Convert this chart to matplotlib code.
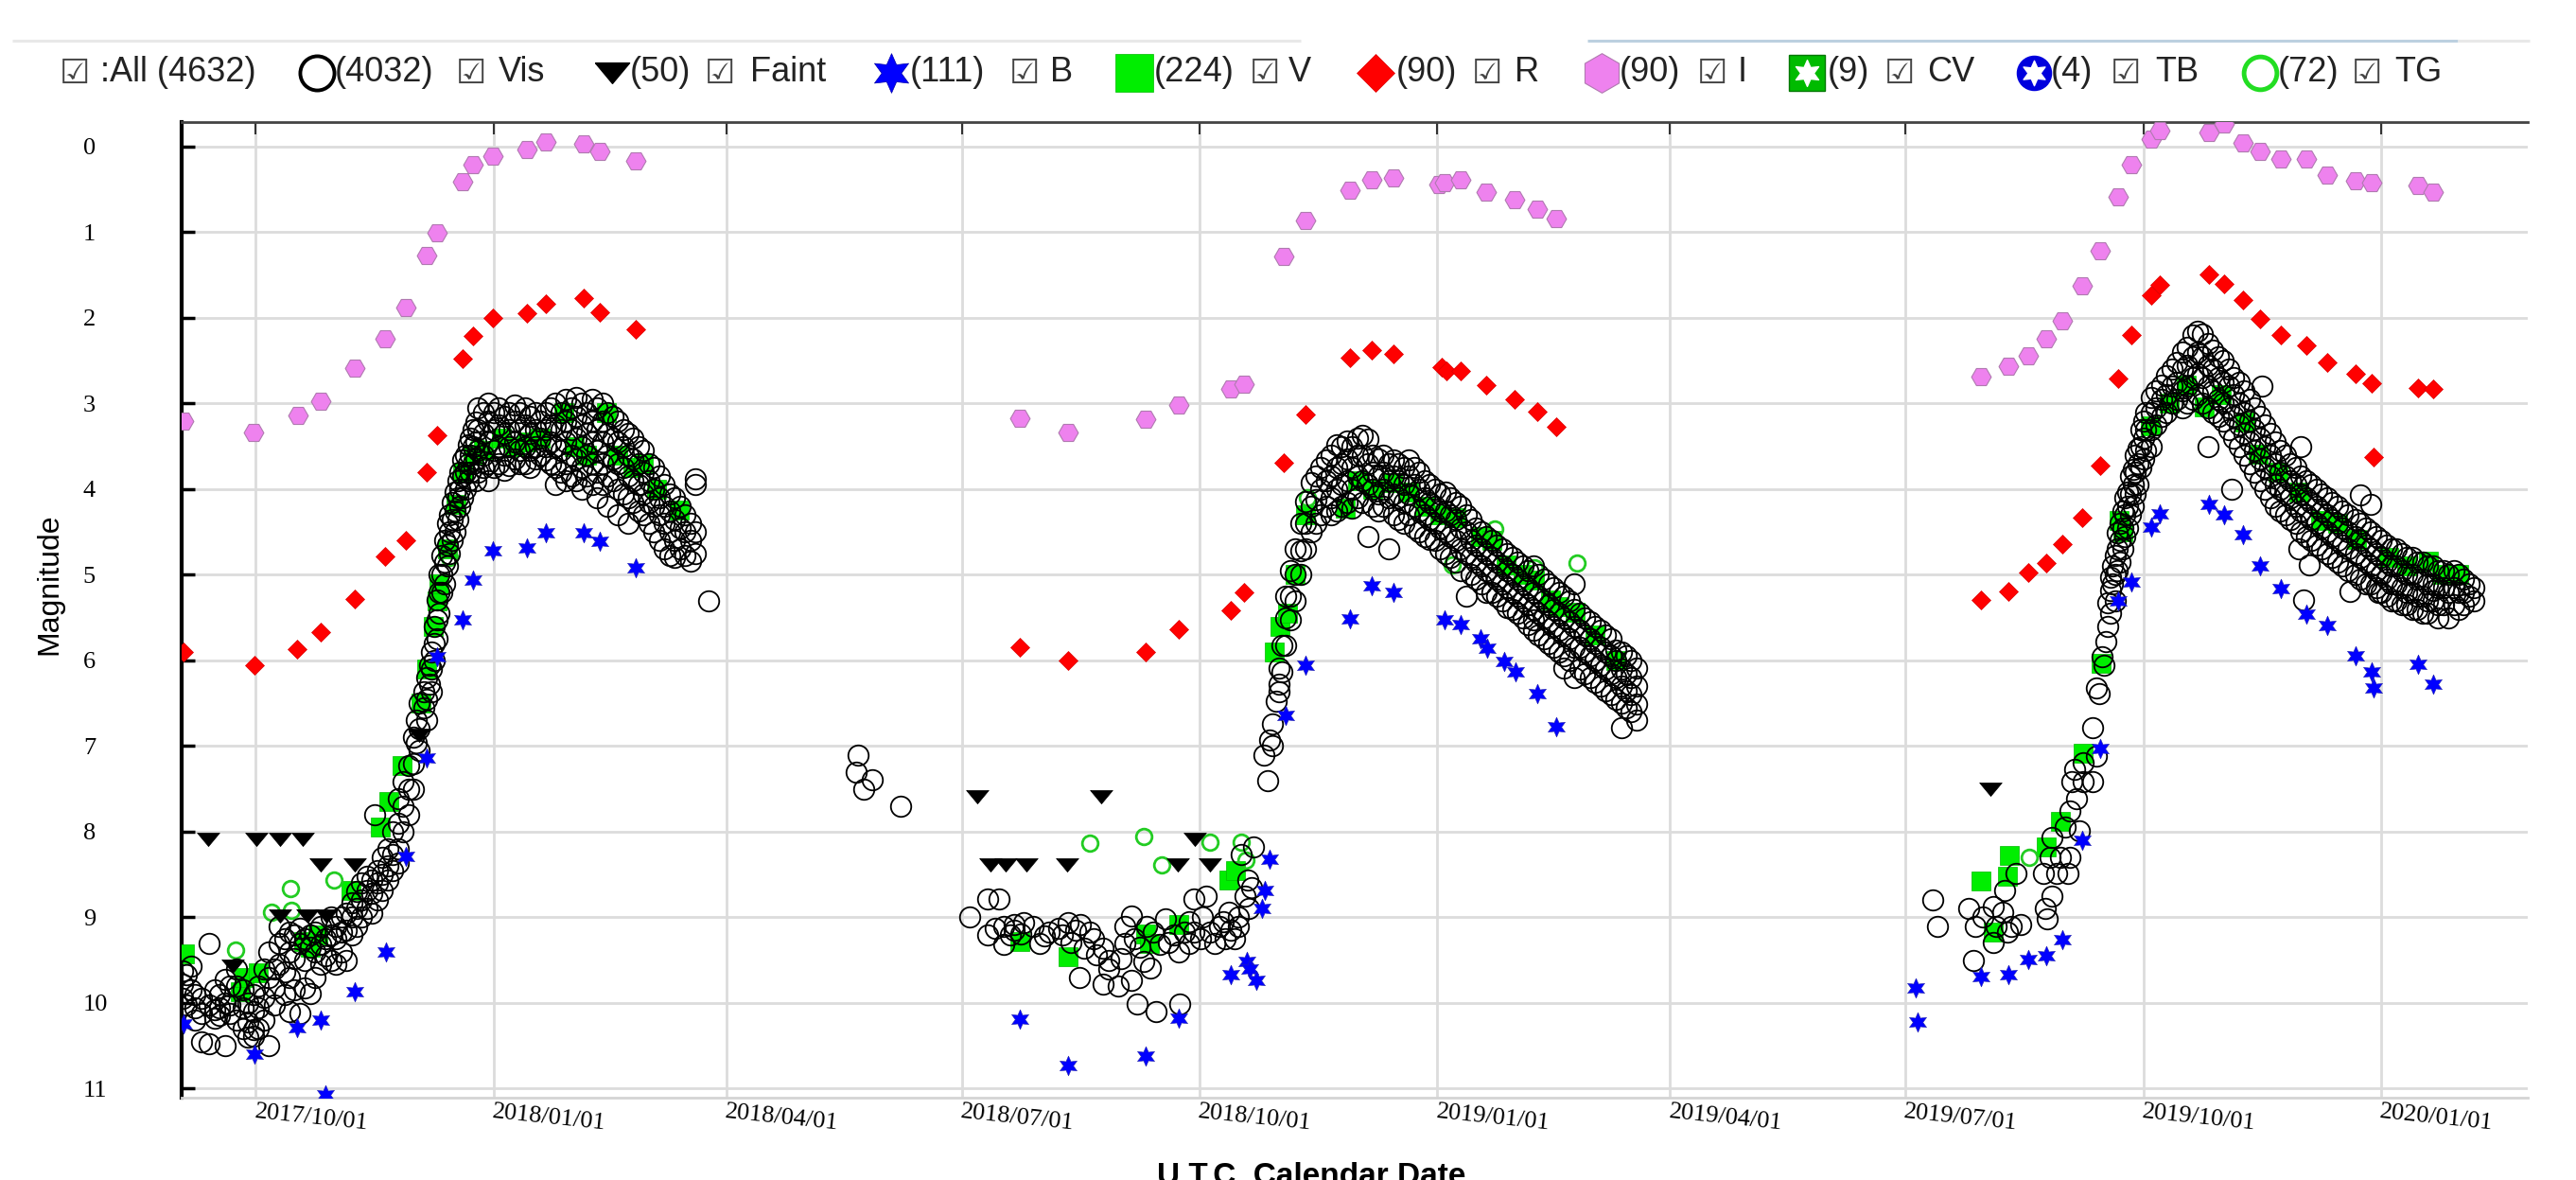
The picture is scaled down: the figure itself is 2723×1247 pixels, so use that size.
import numpy as np
import matplotlib
matplotlib.use("Agg")
import matplotlib.pyplot as plt
import matplotlib.dates as mdates
from matplotlib.path import Path

# ---------------- data (days since 2017-10-01, magnitude) ----------------
EPOCH = "2017-10-01"

i_band = [(-28, 3.2), (-0.9, 3.34), (16.3, 3.14), (25.2, 2.97), (38.3, 2.59), (50, 2.24), (58.1, 1.88),
          (66.1, 1.27), (70, 1.01), (80, 0.41), (84, 0.21), (91.8, 0.11), (104.9, 0.03), (112, -0.06),
          (126.8, -0.03), (133, 0.06), (147, 0.17),
          (295.4, 3.17), (314.2, 3.34), (344.2, 3.18), (357.1, 3.02), (376.9, 2.83), (382.1, 2.77),
          (397.5, 1.28), (406.1, 0.865), (423.2, 0.504), (431.7, 0.386), (439.9, 0.368), (457.5, 0.44),
          (459.8, 0.423), (465.9, 0.386), (476, 0.526), (486.9, 0.615), (495.7, 0.725), (502.8, 0.836),
          (667.4, 2.68), (677.7, 2.56), (685.6, 2.44), (692.6, 2.24), (698.7, 2.03), (706.5, 1.63),
          (713.4, 1.22), (720.3, 0.59), (725.5, 0.21), (733.2, -0.085), (736.3, -0.185), (755.4, -0.17),
          (761.4, -0.26), (768.4, -0.04), (775.3, 0.055), (783.1, 0.14), (793.2, 0.147), (801.3, 0.33),
          (812.2, 0.40), (818.3, 0.416), (836.3, 0.45), (842.1, 0.534)]

r_band = [(-28, 5.9), (-0.6, 6.05), (16.1, 5.87), (25.2, 5.67), (38.3, 5.28), (50, 4.79), (58.1, 4.6),
          (66.1, 3.8), (70, 3.37), (80, 2.47), (84, 2.21), (91.8, 2.0), (104.9, 1.94), (112, 1.84),
          (126.8, 1.77), (133, 1.93), (147, 2.13),
          (295.4, 5.84), (314.2, 6.0), (344.2, 5.9), (357.1, 5.64), (376.9, 5.42), (382.1, 5.21),
          (397.5, 3.69), (406.1, 3.13), (423.2, 2.46), (431.7, 2.38), (439.9, 2.42), (458.5, 2.58),
          (460.5, 2.62), (465.9, 2.62), (476, 2.78), (486.9, 2.95), (495.7, 3.09), (502.8, 3.27),
          (667.4, 5.29), (677.7, 5.19), (685.6, 4.97), (692.6, 4.86), (698.7, 4.64), (706.5, 4.33),
          (713.4, 3.72), (720.3, 2.71), (725.5, 2.2), (733.2, 1.74), (736.3, 1.61), (755.4, 1.49),
          (761.4, 1.6), (768.4, 1.79), (775.3, 2.01), (783.1, 2.2), (793.2, 2.32), (801.3, 2.52),
          (812.2, 2.65), (818.3, 2.76), (819, 3.62), (836.3, 2.82), (842.1, 2.83)]

b_band = [(-28, 10.24), (-0.6, 10.6), (16.1, 10.29), (25.2, 10.2), (26.8, 11.07), (38.3, 9.87), (50.3, 9.4),
          (58.1, 8.29), (66.1, 7.14), (70, 5.96), (80, 5.52), (84, 5.06), (91.8, 4.72), (104.9, 4.68),
          (112, 4.51), (126.8, 4.51), (133, 4.61), (147, 4.92),
          (295.4, 10.19), (314.2, 10.73), (344.2, 10.62), (357.1, 10.18), (376.9, 9.67), (383.3, 9.51),
          (384.5, 9.6), (386.9, 9.74), (389, 8.9), (390.3, 8.68), (392, 8.32), (398.2, 6.64), (406.1, 6.05),
          (423.2, 5.51), (431.7, 5.13), (439.9, 5.21), (459.8, 5.52), (465.9, 5.58), (473.8, 5.75),
          (476.2, 5.86), (482.9, 6.01), (487.2, 6.13), (495.7, 6.39), (502.8, 6.77),
          (641.8, 9.82), (642.6, 10.22), (667.4, 9.69), (677.7, 9.67), (685.6, 9.49), (692.6, 9.45),
          (698.7, 9.26), (706.5, 8.1), (713.4, 7.03), (720.3, 5.3), (725.5, 5.08), (733.2, 4.44),
          (736.3, 4.29), (755.4, 4.18), (761.4, 4.30), (768.4, 4.53), (775.3, 4.9), (783.1, 5.16),
          (793.2, 5.46), (801.3, 5.59), (812.2, 5.95), (818.3, 6.13), (819, 6.32), (836.3, 6.04), (842.1, 6.28)]

v_band = [(-27.6, 9.42), (-6.1, 9.87), (-4.5, 9.7), (1.1, 9.65), (18.6, 9.28), (21, 9.35), (23.9, 9.2),
          (36.9, 8.68), (48, 7.95), (51.3, 7.65), (56.6, 7.23), (64, 6.5), (66, 6.1), (68.5, 5.6), (70, 5.3),
          (71, 5.1), (74, 4.7), (77.5, 4.18), (80, 3.8), (84, 3.6), (88, 3.55), (95, 3.4), (100, 3.5),
          (105, 3.45), (110, 3.4), (119, 3.11), (123, 3.5), (128, 3.6), (135.6, 3.11), (140, 3.6),
          (146, 3.75), (150, 3.7), (155, 4.0), (163.7, 4.24),
          (295.4, 9.28), (314.2, 9.46), (344.2, 9.19), (345.5, 9.3), (357.1, 9.08), (376.5, 8.56),
          (379, 8.45), (394, 5.9), (396, 5.6), (399, 5.45), (402, 5.0), (406, 4.3), (421.4, 4.22),
          (426, 3.9), (432, 4.0), (439.7, 3.92), (445.7, 4.03), (452, 4.2), (458, 4.3), (464, 4.33),
          (473.8, 4.55), (478, 4.6), (483.5, 4.88), (490, 5.0), (494.5, 5.06), (500.6, 5.29),
          (504.2, 5.37), (510.3, 5.44), (518, 5.7), (526, 6.0),
          (667.4, 8.58), (672, 9.17), (678.2, 8.28), (677.3, 8.52), (692.6, 8.18), (698.1, 7.88),
          (706.8, 7.08), (713.7, 6.03), (720.7, 4.36), (722, 4.5), (732.8, 3.26), (740, 3.0),
          (746.7, 2.78), (753.6, 3.04), (760, 2.9), (769.2, 3.22), (774.4, 3.59), (782, 3.8), (790, 4.03),
          (798.7, 4.36), (805, 4.4), (812.6, 4.59), (825, 4.8), (832, 4.9), (840.3, 4.84), (845.5, 4.99),
          (852, 5.0)]

tg_band = [(-8, 9.38), (5.9, 8.94), (13.2, 8.66), (13.6, 8.92), (30.2, 8.56), (75, 4.8), (86, 3.5),
           (322.4, 8.13), (343.3, 8.05), (350.2, 8.39), (368.9, 8.12), (381.1, 8.12), (382.9, 8.33),
           (406.7, 4.1), (462.8, 4.88), (479.3, 4.46), (494.5, 4.92), (510.9, 4.86), (686, 8.3)]

faint = [(-18.5, 8.09), (0.1, 8.09), (9.3, 8.09), (18.2, 8.09), (25.2, 8.39), (38.3, 8.39), (9.5, 8.98),
         (20, 8.98), (27.2, 8.98), (-8.8, 9.57), (63.1, 6.87),
         (279.1, 7.59), (326.9, 7.59), (284.2, 8.39), (290, 8.39), (298.2, 8.39), (313.8, 8.39),
         (356.4, 8.39), (368.9, 8.39), (363.1, 8.09), (670.7, 7.5)]

vis_season1 = [
    (-28.5, (9.62, 9.78, 9.95)), (-27, (9.67, 10.02)), (-25, (9.57, 9.84)), (-23.5, (10.05, 10.2, 9.9)),
    (-21, (9.95, 10.12, 10.45)), (-18, (9.3, 10.02, 10.48)), (-16, (10.08, 10.18, 9.85)),
    (-14, (9.9, 10.05, 10.14)), (-12, (10.5, 10.0, 9.72)), (-10, (10.02, 10.12, 9.8)),
    (-7.5, (9.8, 10.2, 9.6)), (-5, (10.05, 10.3, 9.85)), (-3, (10.4, 10.22, 10.0)),
    (-1, (10.39, 10.31, 10.1, 9.9)), (1, (10.3, 10.05, 9.8)), (3, (9.93, 10.2, 9.6)),
    (5, (9.7, 10.5, 9.4)), (7, (9.82, 9.6, 10.02)), (9, (9.1, 9.3, 9.55)), (11, (9.25, 9.63, 9.9)),
    (13, (9.17, 9.4, 9.7, 10.1)), (15, (9.2, 9.48, 9.85)), (17, (9.13, 9.3, 10.12)),
    (19, (9.25, 9.5, 9.82)), (21, (9.2, 9.35, 9.89)), (23, (9.17, 9.4, 9.7)), (25, (9.1, 9.32, 9.55)),
    (27, (9.25, 9.45)), (29, (9.0, 9.2, 9.5)), (31, (9.1, 9.25, 9.55)), (33, (9.0, 9.17, 9.4)),
    (35, (8.95, 9.15, 9.5)), (37, (8.83, 9.0, 9.2)), (39, (8.7, 8.9, 9.1)), (41, (8.6, 8.8, 9.0)),
    (43, (8.52, 8.68, 8.9)), (45, (8.56, 8.72, 8.95)), (46, (7.8,)), (47, (8.45, 8.6, 8.8)),
    (49, (8.3, 8.5, 8.68)), (51, (8.2, 8.4, 8.56)), (53, (8.0, 8.26, 8.45)), (55, (7.61, 7.9, 8.2, 8.37)),
    (57, (7.42, 7.7, 8.0)), (59, (7.23, 7.5, 7.8)), (61, (6.9, 7.2, 7.5)), (62, (6.7, 6.96)),
    (63, (6.5, 6.8, 7.05)), (65, (6.36, 6.55)), (66, (6.2, 6.45, 6.7)), (67, (6.05, 6.28)),
    (68, (5.9, 6.1, 6.36)), (69, (5.6, 5.8, 6.0)), (70, (5.29, 5.52, 5.75)), (71, (5.0, 5.2, 5.45)),
    (72, (4.77, 5.0, 5.21)), (73, (4.6, 4.85, 5.1)), (74, (4.4, 4.65, 4.9)), (75, (4.3, 4.5, 4.75)),
    (76, (4.15, 4.35, 4.6)), (77, (4.03, 4.25, 4.5)), (78, (3.9, 4.1, 4.35)), (79, (3.8, 4.0, 4.2)),
    (80, (3.66, 3.85, 4.1)), (81, (3.6, 3.8, 4.0)), (82, (3.48, 3.7, 3.9)), (83, (3.4, 3.6, 3.8)),
    (84, (3.3, 3.5, 3.7)), (85, (3.22, 3.45, 3.65, 3.9)),
    (86, (3.05, 3.3, 3.55, 3.8)), (88, (3.11, 3.35, 3.6, 3.75)), (90, (3.0, 3.2, 3.45, 3.7, 3.9)),
    (92, (3.1, 3.3, 3.55, 3.75)), (94, (3.05, 3.25, 3.5, 3.7)), (96, (3.15, 3.35, 3.6, 3.78)),
    (98, (3.1, 3.3, 3.5, 3.72)), (100, (3.02, 3.2, 3.45, 3.65)), (102, (3.1, 3.3, 3.55, 3.7)),
    (104, (3.05, 3.25, 3.5, 3.7)), (106, (3.15, 3.35, 3.55, 3.75)), (108, (3.1, 3.3, 3.5, 3.65)),
    (110, (3.2, 3.4, 3.6)), (112, (3.1, 3.3, 3.5, 3.66)), (114, (3.05, 3.25, 3.45, 3.7)),
    (116, (3.0, 3.25, 3.5, 3.75, 3.95)), (118, (3.1, 3.3, 3.55, 3.8)), (120, (2.95, 3.2, 3.45, 3.7, 3.9)),
    (122, (3.05, 3.3, 3.6, 3.85)), (124, (2.93, 3.15, 3.4, 3.65, 3.9)), (126, (3.0, 3.25, 3.5, 3.75, 4.0)),
    (128, (3.1, 3.35, 3.6, 3.85)), (130, (2.95, 3.2, 3.45, 3.7, 3.95)), (132, (3.05, 3.3, 3.55, 3.8, 4.1)),
    (134, (3.0, 3.2, 3.45, 3.7, 3.95)), (136, (3.1, 3.35, 3.6, 3.85, 4.2)), (138, (3.15, 3.4, 3.65, 3.9)),
    (140, (3.2, 3.45, 3.7, 4.0, 4.3)), (142, (3.3, 3.5, 3.75, 4.05)), (144, (3.35, 3.6, 3.85, 4.1, 4.4)),
    (146, (3.4, 3.65, 3.9, 4.15)), (148, (3.5, 3.7, 3.95, 4.25)), (150, (3.55, 3.8, 4.05, 4.3)),
    (152, (3.7, 3.9, 4.15, 4.4)), (154, (3.75, 4.0, 4.2, 4.5)), (156, (3.85, 4.1, 4.3, 4.6)),
    (158, (3.95, 4.2, 4.4, 4.7)), (160, (4.05, 4.25, 4.5, 4.77)), (162, (4.1, 4.35, 4.6, 4.8)),
    (164, (4.2, 4.45, 4.7)), (166, (4.3, 4.5, 4.77)), (168, (4.4, 4.6, 4.84)),
    (170, (3.88, 3.95, 4.5, 4.75)), (175, (5.3,)),
]

vis_season2 = [
    (232.2, (7.3,)), (233, (7.1,)), (235.2, (7.5,)), (238.5, (7.39,)), (249.2, (7.7,)),
    (276.1, (9.0,)), (283, (8.79, 9.21)), (286.1, (9.13,)), (287.3, (8.79,)), (289.4, (9.32, 9.1)),
    (292, (9.2,)), (293.4, (9.08, 9.15)), (295.8, (9.19,)), (297.1, (9.06,)), (300.7, (9.11,)),
    (303.1, (9.3,)), (305, (9.22,)), (306.8, (9.17,)), (310.5, (9.13,)), (312, (9.2,)), (314.1, (9.06,)),
    (315.3, (9.29,)), (317, (9.15,)), (318.4, (9.7,)), (319, (9.08,)), (320.2, (9.36,)), (322.6, (9.17,)),
    (324, (9.25,)), (325.1, (9.44,)), (327.5, (9.36, 9.78)), (330, (9.5, 9.6)), (333.6, (9.8,)),
    (334.8, (9.48,)), (336, (9.3, 9.1)), (338.5, (8.98, 9.74)), (339.7, (9.25,)), (340.9, (10.01,)),
    (342, (9.35,)), (343.4, (9.51,)), (344.6, (9.1,)), (345.8, (9.59,)), (347, (9.17,)), (348.2, (10.1,)),
    (349.5, (9.32,)), (351.9, (9.02,)), (353.1, (9.29,)), (355, (9.2,)), (356.8, (9.4,)), (357.4, (10.01,)),
    (359.2, (9.17,)), (361, (9.05, 9.3)), (362.9, (8.79, 9.17)), (365.3, (9.25,)), (366, (9.0,)),
    (367.7, (8.75,)), (369, (9.17,)), (371, (9.3,)), (372.6, (9.1,)), (374, (9.05,)), (375, (9.25,)),
    (376.3, (8.94,)), (377, (9.15,)), (378.7, (9.25,)), (379.9, (9.1,)), (380, (9.0,)), (381.1, (8.26,)),
    (382.4, (8.75,)), (383.6, (8.56,)), (384, (8.9,)), (385, (8.65,)), (386, (8.18,)),
    (389.7, (7.1,)), (391.5, (7.4,)), (392.1, (6.93,)), (393.3, (6.74, 7.0)), (394.5, (6.47,)),
    (395.8, (6.09, 6.28, 6.36)), (397, (5.82, 6.13)), (398.2, (5.25, 5.5, 5.82)),
    (400, (4.95, 5.25, 5.52)), (402, (4.7, 5.0, 5.3)), (404, (4.4, 4.72, 5.0)), (406, (4.14, 4.4, 4.7)),
    (408, (3.92, 4.2, 4.5)), (410, (3.85, 4.12, 4.4)), (412, (3.75, 4.0, 4.3)), (414, (3.66, 3.9, 4.2)),
    (416, (3.6, 3.85, 4.1, 4.3)), (418, (3.48, 3.75, 4.0, 4.25)), (420, (3.5, 3.7, 3.95, 4.2)),
    (422, (3.44, 3.65, 3.9, 4.15)), (424, (3.5, 3.75, 4.0, 4.22)), (426, (3.4, 3.6, 3.85, 4.1)),
    (428, (3.37, 3.6, 3.9, 4.15)), (430, (3.41, 3.7, 3.95, 4.55)), (432, (3.6, 3.8, 4.0, 4.2)),
    (434, (3.65, 3.85, 4.05, 4.25)), (436, (3.6, 3.8, 4.0, 4.2)), (438, (3.7, 3.9, 4.1, 4.7)),
    (440, (3.66, 3.85, 4.05, 4.3)), (442, (3.7, 3.9, 4.1, 4.35)), (444, (3.75, 3.95, 4.15, 4.4)),
    (446, (3.66, 3.85, 4.05, 4.3)), (448, (3.75, 3.95, 4.2, 4.45)), (450, (3.8, 4.0, 4.25, 4.5)),
    (452, (3.9, 4.1, 4.3, 4.55)), (454, (3.95, 4.15, 4.35, 4.59)), (456, (4.0, 4.2, 4.4, 4.6)),
    (458, (4.05, 4.25, 4.45, 4.7)), (460, (4.03, 4.25, 4.5, 4.75)), (462, (4.1, 4.3, 4.55, 4.8)),
    (464, (4.15, 4.35, 4.6, 4.85)), (466, (4.2, 4.45, 4.7, 4.95)), (468, (4.3, 4.5, 4.75, 5.25)),
    (470, (4.35, 4.6, 4.8, 5.0)), (472, (4.45, 4.65, 4.85, 5.05)), (474, (4.5, 4.7, 4.9, 5.1)),
    (476, (4.55, 4.75, 4.95, 5.21)), (478, (4.6, 4.8, 5.0, 5.2)), (480, (4.65, 4.85, 5.05, 5.25)),
    (482, (4.7, 4.9, 5.1, 5.3)), (484, (4.75, 4.95, 5.15, 5.38)), (486, (4.8, 5.0, 5.2, 5.4)),
    (488, (4.85, 5.05, 5.25, 5.45)), (490, (4.9, 5.1, 5.3, 5.5)), (492, (4.95, 5.15, 5.35, 5.58)),
    (494, (4.9, 5.2, 5.4, 5.52, 5.65)), (496, (5.0, 5.25, 5.45, 5.7)), (498, (5.05, 5.3, 5.5, 5.75)),
    (500, (5.1, 5.35, 5.55, 5.8)), (502, (5.15, 5.4, 5.6, 5.85)), (504, (5.2, 5.45, 5.65, 5.9)),
    (506, (5.25, 5.5, 5.7, 5.95, 6.09)), (508, (5.3, 5.55, 5.75, 6.0)), (510, (5.1, 5.4, 5.6, 5.85, 6.2)),
    (512, (5.45, 5.65, 5.85, 6.1)), (514, (5.5, 5.7, 5.9, 6.15)), (516, (5.55, 5.75, 5.95, 6.2)),
    (518, (5.6, 5.8, 6.0, 6.25)), (520, (5.65, 5.85, 6.05, 6.3)), (522, (5.7, 5.9, 6.1, 6.35)),
    (524, (5.75, 5.95, 6.15, 6.4)), (526, (5.88, 6.0, 6.2, 6.45)), (528, (5.9, 6.1, 6.3, 6.5, 6.79)),
    (530, (5.95, 6.15, 6.35, 6.55)), (532, (6.0, 6.2, 6.4, 6.6)), (534, (6.09, 6.3, 6.51, 6.7)),
]

vis_season3 = [
    (648.7, (8.8,)), (650.4, (9.1,)), (662.6, (8.9,)), (664.3, (9.5,)), (665.2, (9.1,)), (667.8, (9.0,)),
    (672.1, (8.87, 9.29)), (673, (9.1,)), (675.6, (8.94,)), (676.5, (8.68,)), (677.3, (9.17,)),
    (679.1, (9.1,)), (680.8, (8.49,)), (682.5, (9.08,)), (691.2, (8.49,)), (692.1, (8.9,)),
    (692.9, (9.02,)), (693.8, (8.3,)), (694.7, (8.75, 8.07)), (696.4, (8.49,)), (698.1, (8.3,)),
    (699.9, (7.95,)), (700.7, (8.49,)), (701.6, (8.3, 7.76)), (702.5, (7.42,)), (703.3, (7.27,)),
    (704.2, (7.61,)), (705.1, (7.99,)), (706.8, (7.42, 7.19)), (710.3, (7.42, 6.79)), (712, (7.12, 6.32)),
    (712.9, (6.39,)), (714.1, (5.96,)), (714.6, (6.05,)), (715.5, (5.78,)), (716.3, (5.33, 5.6)),
    (717.2, (5.03, 5.18, 5.45)), (718, (4.9, 5.1)), (719, (4.77, 5.0, 5.3)), (720, (4.51, 4.7, 4.95)),
    (721, (4.4, 4.6, 4.85)), (722, (4.25, 4.45, 4.7)), (723, (4.1, 4.3, 4.55)), (724, (4.03, 4.2, 4.45)),
    (725, (3.85, 4.05, 4.3)), (726, (3.77, 3.95, 4.2)), (727, (3.6, 3.8, 4.05)), (728, (3.52, 3.7, 3.95)),
    (729, (3.3, 3.5, 3.75)), (730, (3.2, 3.4, 3.65)), (731, (3.11, 3.3, 3.55)), (733, (2.93, 3.1, 3.3, 3.5)),
    (735, (2.85, 3.05, 3.25)), (737, (2.78, 2.95, 3.15)), (739, (2.67, 2.9, 3.1)), (741, (2.6, 2.8, 3.0)),
    (743, (2.52, 2.75, 2.95)), (745, (2.4, 2.6, 2.85, 3.05)), (747, (2.34, 2.55, 2.8, 3.0)),
    (749, (2.2, 2.45, 2.7, 2.95)), (751, (2.15, 2.4, 2.65, 2.9)), (753, (2.19, 2.45, 2.7, 3.0)),
    (755, (2.3, 2.55, 2.8, 3.05, 3.5)), (757, (2.38, 2.6, 2.85, 3.1)), (759, (2.45, 2.7, 2.95, 3.15)),
    (761, (2.5, 2.75, 3.0, 3.2)), (763, (2.6, 2.8, 3.05, 3.3)), (764, (4.0,)), (765, (2.7, 2.9, 3.15, 3.4)),
    (767, (2.75, 3.0, 3.25, 3.5)), (769, (2.85, 3.1, 3.35, 3.6)), (771, (2.95, 3.2, 3.45, 3.7)),
    (773, (3.05, 3.3, 3.55, 3.8)), (775, (3.15, 3.4, 3.65, 3.9)), (776, (2.8,)),
    (777, (3.25, 3.5, 3.75, 4.0)), (779, (3.35, 3.6, 3.85, 4.1)), (781, (3.45, 3.7, 3.95, 4.2)),
    (783, (3.55, 3.8, 4.0, 4.25)), (785, (3.6, 3.85, 4.05, 4.3)), (787, (3.7, 3.9, 4.1, 4.35)),
    (789, (3.75, 3.95, 4.2, 4.4)), (790, (4.7,)), (791, (3.5, 3.85, 4.05, 4.25, 4.5)), (792, (5.29,)),
    (793, (3.9, 4.1, 4.3, 4.55)), (794, (4.88,)), (795, (3.95, 4.15, 4.35, 4.6)),
    (797, (4.0, 4.2, 4.4, 4.65)), (799, (4.05, 4.25, 4.45, 4.7)), (801, (4.1, 4.3, 4.5, 4.75)),
    (803, (4.15, 4.35, 4.55, 4.8)), (805, (4.2, 4.4, 4.6, 4.85)), (807, (4.25, 4.45, 4.65, 4.9)),
    (809, (4.3, 4.5, 4.7, 4.95)), (810, (5.19,)), (812, (4.35, 4.55, 4.75, 5.0)),
    (814, (4.07, 4.4, 4.6, 4.8, 5.05)), (816, (4.45, 4.65, 4.85, 5.1)), (818, (4.18, 4.5, 4.7, 4.9, 5.1)),
    (820, (4.55, 4.75, 4.95, 5.15)), (821, (5.21,)), (822, (4.6, 4.8, 5.0, 5.2)),
    (824, (4.65, 4.85, 5.05, 5.25)), (826, (4.7, 4.9, 5.1, 5.3)), (828, (4.7, 4.9, 5.1, 5.3)),
    (830, (4.75, 4.95, 5.15, 5.35)), (832, (4.8, 5.0, 5.2, 5.35)), (834, (4.8, 5.0, 5.2, 5.4)),
    (836, (4.85, 5.05, 5.25, 5.4)), (838, (4.85, 5.05, 5.25, 5.45)), (840, (4.9, 5.1, 5.3, 5.45)),
    (842, (4.9, 5.1, 5.18, 5.3)), (844, (4.95, 5.15, 5.35, 5.5)), (846, (4.95, 5.15, 5.35)),
    (848, (5.0, 5.2, 5.5)), (850, (4.95, 5.15, 5.35)), (852, (5.0, 5.2, 5.4)), (854, (5.05, 5.2, 5.35)),
    (856, (5.1, 5.25)), (858, (5.15, 5.3)),
]

legend_counts = {"All": 4632, "Vis": 4032, "Faint": 50, "B": 111, "V": 224, "R": 90, "I": 90,
                 "CV": 9, "TB": 4, "TG": 72}

# ---------------- figure ----------------
W, H = 2723, 1247
fig = plt.figure(figsize=(W / 100, H / 100), dpi=100)
fig.patch.set_facecolor("white")

hax = fig.add_axes([0, 0, 1, 1])
hax.set_xlim(0, W)
hax.set_ylim(H, 0)
hax.axis("off")

ax = fig.add_axes([192 / W, 1 - 1160 / H, (2672 - 192) / W, (1160 - 129) / H])

epoch_num = mdates.date2num(np.datetime64(EPOCH))


def split(pairs):
    d = np.array([p[0] for p in pairs], float)
    m = np.array([p[1] for p in pairs], float)
    return epoch_num + d, m


def flatten(nights):
    d, m = [], []
    for day, mags in nights:
        for mag in mags:
            d.append(day)
            m.append(mag)
    return epoch_num + np.array(d, float), np.array(m, float)


star6 = Path.unit_regular_star(6, 0.5)
flat_tri = [(-1, 0.6), (1, 0.6), (0, -0.6), (-1, 0.6)]

x, y = split(i_band)
ax.plot(x, y, ls="none", marker="H", ms=15, mfc="#ee82ee", mec="#b07ab0", mew=0.8, zorder=3)
x, y = split(r_band)
ax.plot(x, y, ls="none", marker="D", ms=10, mfc="#ff0000", mec="#dd0000", mew=0.5, zorder=3)
x, y = split(v_band)
ax.plot(x, y, ls="none", marker="s", ms=14, mfc="#00ee00", mec="#00bb00", mew=0.5, zorder=3)
x, y = split(tg_band)
ax.plot(x, y, ls="none", marker="o", ms=12, mfc="none", mec="#22cc22", mew=2.0, zorder=3)
for season in (vis_season1, vis_season2, vis_season3):
    x, y = flatten(season)
    ax.plot(x, y, ls="none", marker="o", ms=15.5, mfc="none", mec="black", mew=1.3, zorder=4)
x, y = split(b_band)
ax.plot(x, y, ls="none", marker=star6, ms=15, mfc="#0000ff", mec="#2222aa", mew=0.4, zorder=5)
x, y = split(faint)
ax.plot(x, y, ls="none", marker=flat_tri, ms=17, mfc="black", mec="black", mew=0.5, zorder=5)

# axes styling
ax.set_xlim(epoch_num - 28.7, epoch_num + 878.7)
ax.set_ylim(11.105, -0.287)
ax.set_yticks(range(0, 12))
ax.xaxis.set_major_locator(mdates.MonthLocator(bymonth=[1, 4, 7, 10], bymonthday=1))
ax.xaxis.set_major_formatter(mdates.DateFormatter("%Y/%m/%d"))
ax.grid(True, color="#dcdcdc", lw=2)
ax.set_axisbelow(True)
ax.tick_params(axis="x", bottom=False, top=True, labelbottom=True, direction="in",
               length=9, width=1.5, color="#333333", pad=3, labelsize=19)
ax.tick_params(axis="y", left=True, right=False, direction="in", length=10, width=2.5,
               color="black", pad=75, labelsize=19)
for lbl in ax.get_xticklabels():
    lbl.set_rotation(-6)
    lbl.set_ha("left")
    lbl.set_va("top")
    lbl.set_rotation_mode("anchor")
    lbl.set_family("Liberation Serif")
for lbl in ax.get_yticklabels():
    lbl.set_ha("left")
    lbl.set_family("Liberation Serif")

ax.spines["left"].set_color("black")
ax.spines["left"].set_linewidth(3)
ax.spines["top"].set_color("#444444")
ax.spines["top"].set_linewidth(2)
ax.spines["bottom"].set_color("#d4d4d4")
ax.spines["bottom"].set_linewidth(2)
ax.spines["right"].set_visible(False)

fig.text(52 / W, 1 - 617 / H, "Magnitude", rotation=90, ha="center", va="center",
         fontsize=23, family="Liberation Sans")
fig.text(1386 / W, 1 - 1252 / H, "U.T.C. Calendar Date", ha="center", va="baseline",
         fontsize=24, weight="bold", family="Liberation Sans")

# ---------------- header / legend row ----------------
hax.plot([13, 1375], [43, 43], color="#e8e8e8", lw=2.2, solid_capstyle="butt")
hax.plot([1678, 2598], [43, 43], color="#bcd0e0", lw=2.2, solid_capstyle="butt")
hax.plot([2598, 2674], [43, 43], color="#e8e8e8", lw=2.2, solid_capstyle="butt")

LY = 77
tfont = dict(fontsize=26, family=["Liberation Sans", "DejaVu Sans"], color="#222222",
             va="center", ha="left")
cfont = dict(fontsize=26, family=["DejaVu Sans"], color="#444444", va="center", ha="left")


def chk(xp):
    hax.text(xp, LY + 1, "\u2611", **cfont)


chk(63)
hax.text(106, LY, ":All (%d)" % legend_counts["All"], **tfont)

items = [
    # name, marker x, count text x, checkbox x, label x
    ("Vis", 335, 354, 482, 527),
    ("Faint", 647, 666, 745, 793),
    ("B", 942, 962, 1067, 1110),
    ("V", 1199, 1220, 1321, 1362),
    ("R", 1454, 1476, 1556, 1601),
    ("I", 1693, 1712, 1794, 1837),
    ("CV", 1910, 1932, 1992, 2037),
    ("TB", 2150, 2168, 2231, 2278),
    ("TG", 2389, 2408, 2486, 2531),
]
for name, mx, tx, cx, lx in items:
    if name == "Vis":
        hax.plot([mx], [LY], marker="o", ms=26, mfc="none", mec="black", mew=2.8)
    elif name == "Faint":
        hax.plot([mx], [LY], marker=flat_tri, ms=26, mfc="black", mec="black")
    elif name == "B":
        hax.plot([mx], [LY], marker=star6, ms=30, mfc="#0000ff", mec="#0000aa", mew=0.5)
    elif name == "V":
        hax.plot([mx], [LY], marker="s", ms=29, mfc="#00ee00", mec="#00bb00", mew=0.5)
    elif name == "R":
        hax.plot([mx], [LY], marker="D", ms=20, mfc="#ff0000", mec="#dd0000", mew=0.5)
    elif name == "I":
        hax.plot([mx], [LY], marker="h", ms=30, mfc="#ee82ee", mec="#b07ab0", mew=0.8)
    elif name == "CV":
        hax.plot([mx], [LY], marker="s", ms=28, mfc="#00bb00", mec="#007700", mew=1.0)
        hax.plot([mx], [LY], marker=star6, ms=20, mfc="white", mec="white")
    elif name == "TB":
        hax.plot([mx], [LY], marker="o", ms=26, mfc="#0000dd", mec="#0000dd")
        hax.plot([mx], [LY], marker=star6, ms=19, mfc="white", mec="white")
    elif name == "TG":
        hax.plot([mx], [LY], marker="o", ms=25, mfc="none", mec="#22dd22", mew=3.5)
    hax.text(tx, LY, "(%d)" % legend_counts[name], **tfont)
    chk(cx)
    hax.text(lx, LY, name, **tfont)

fig.savefig("out.png", dpi=100)
